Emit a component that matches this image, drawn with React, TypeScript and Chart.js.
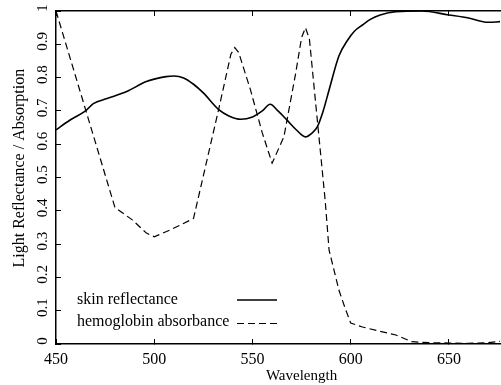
import React, { useEffect, useRef } from "react";
import { Chart, registerables } from "chart.js";

Chart.register(...registerables);

// ---- data ----
const reflWavelengths = [450, 457, 465, 469, 476, 486, 496, 506, 510, 515, 520, 525, 533, 538, 544, 550, 555, 559, 563, 567.5, 572, 577, 580, 583, 586, 589, 594, 598.5, 602, 606, 610, 615, 623, 636, 650, 660, 670, 676];
const reflValues = [0.643, 0.672, 0.7, 0.722, 0.737, 0.758, 0.788, 0.803, 0.805, 0.799, 0.78, 0.754, 0.703, 0.685, 0.675, 0.682, 0.7, 0.72, 0.7, 0.673, 0.645, 0.622, 0.632, 0.652, 0.7, 0.763, 0.865, 0.913, 0.94, 0.958, 0.975, 0.988, 0.998, 1.0, 0.988, 0.979, 0.966, 0.968];

const absWavelengths = [450, 480, 489, 496, 500, 508, 520, 533, 539, 541, 543, 549, 555, 560, 566, 572, 575, 577, 579, 583, 587, 589, 594, 597, 600, 606, 615, 623, 631, 640, 650, 660, 670, 676];
const absValues = [1.0, 0.41, 0.372, 0.333, 0.322, 0.342, 0.377, 0.71, 0.87, 0.89, 0.875, 0.763, 0.634, 0.543, 0.622, 0.813, 0.92, 0.95, 0.915, 0.673, 0.432, 0.282, 0.162, 0.11, 0.063, 0.051, 0.038, 0.027, 0.007, 0.004, 0.003, 0.002, 0.004, 0.008];

const seriesLabels = ["skin reflectance", "hemoglobin absorbance"];
const xAxisTitle = "Wavelength";
const yAxisTitle = "Light Reflectance / Absorption";
const xMin = 450;
const xMax = 676;
const xStep = 50;
const yMin = 0;
const yMax = 1;
const yStep = 0.1;

const FONT = '"Liberation Serif", "Times New Roman", serif';
const DASH = [7, 4];

const innerTicks = {
  display: true,
  drawOnChartArea: false,
  drawTicks: true,
  tickLength: -5,
  color: "#000",
  lineWidth: 1,
};
const frameBorder = { display: true, color: "#000", width: 1.5 };

const legendTitlesPlugin = {
  id: "legendTitles",
  afterDraw(chart: any) {
    const ctx: CanvasRenderingContext2D = chart.ctx;
    const { left, right, top, bottom } = chart.chartArea;
    ctx.save();
    ctx.fillStyle = "#000";
    ctx.strokeStyle = "#000";
    ctx.font = `16px ${FONT}`;
    ctx.textAlign = "left";
    ctx.textBaseline = "middle";
    const row1 = bottom - 44;
    const row2 = bottom - 22;
    ctx.fillText(seriesLabels[0], left + 21, row1);
    ctx.fillText(seriesLabels[1], left + 21, row2);
    ctx.beginPath();
    ctx.lineWidth = 1.6;
    ctx.setLineDash([]);
    ctx.moveTo(left + 181, row1);
    ctx.lineTo(left + 221, row1);
    ctx.stroke();
    ctx.beginPath();
    ctx.lineWidth = 1.2;
    ctx.setLineDash(DASH);
    ctx.moveTo(left + 181, row2 + 1.5);
    ctx.lineTo(left + 221, row2 + 1.5);
    ctx.stroke();
    ctx.setLineDash([]);

    ctx.font = `15px ${FONT}`;
    ctx.textAlign = "center";
    ctx.fillText(xAxisTitle, left + (right - left) * 0.553, bottom + 32);
    ctx.font = `16px ${FONT}`;
    ctx.translate(20, top + (bottom - top) * 0.472);
    ctx.rotate(-Math.PI / 2);
    ctx.fillText(yAxisTitle, 0, 0);
    ctx.restore();
  },
};

export default function App() {
  const ref = useRef<HTMLCanvasElement | null>(null);
  useEffect(() => {
    if (!ref.current) return;
    const chart = new Chart(ref.current, {
      type: "line",
      data: {
        datasets: [
          {
            label: seriesLabels[0],
            data: reflWavelengths.map((w, i) => ({ x: w, y: reflValues[i] })),
            borderColor: "#000",
            borderWidth: 1.6,
            pointRadius: 0,
            fill: false,
            cubicInterpolationMode: "monotone",
          },
          {
            label: seriesLabels[1],
            data: absWavelengths.map((w, i) => ({ x: w, y: absValues[i] })),
            borderColor: "#000",
            borderWidth: 1.2,
            borderDash: DASH,
            pointRadius: 0,
            fill: false,
            tension: 0,
          },
        ],
      },
      options: {
        animation: false,
        responsive: false,
        devicePixelRatio: 1,
        layout: { padding: { top: 11, right: 1, bottom: 15, left: 0 } },
        plugins: { legend: { display: false }, tooltip: { enabled: false } },
        scales: {
          x: {
            type: "linear",
            position: "bottom",
            min: xMin,
            max: xMax,
            grid: innerTicks,
            border: frameBorder,
            ticks: {
              stepSize: xStep,
              includeBounds: false,
              autoSkip: false,
              maxRotation: 0,
              padding: 11,
              color: "#000",
              font: { family: FONT, size: 16 },
            },
            afterFit: (s: any) => {
              s.height = 26;
              s.paddingLeft = 0;
              s.paddingRight = 0;
            },
          },
          x2: {
            type: "linear",
            axis: "x",
            position: "top",
            min: xMin,
            max: xMax,
            grid: innerTicks,
            border: frameBorder,
            ticks: { display: false, stepSize: xStep, includeBounds: false, autoSkip: false },
            afterFit: (s: any) => {
              s.height = 0;
              s.paddingLeft = 0;
              s.paddingRight = 0;
            },
          },
          y: {
            type: "linear",
            min: yMin,
            max: yMax,
            grid: innerTicks,
            border: frameBorder,
            ticks: {
              stepSize: yStep,
              autoSkip: false,
              minRotation: 90,
              maxRotation: 90,
              crossAlign: "center",
              padding: 9,
              labelOffset: -3,
              color: "#000",
              font: { family: FONT, size: 15 },
              callback: (v: any) => String(Math.round(Number(v) * 10) / 10),
            },
            afterFit: (s: any) => {
              s.width = 56;
              s.paddingTop = 0;
              s.paddingBottom = 0;
            },
          },
        },
      },
      plugins: [legendTitlesPlugin],
    });
    return () => chart.destroy();
  }, []);
  return (
    <div style={{ position: "absolute", left: 0, top: 0, width: 501, height: 385, background: "#fff" }}>
      <canvas ref={ref} width={501} height={385} style={{ display: "block" }} />
    </div>
  );
}
